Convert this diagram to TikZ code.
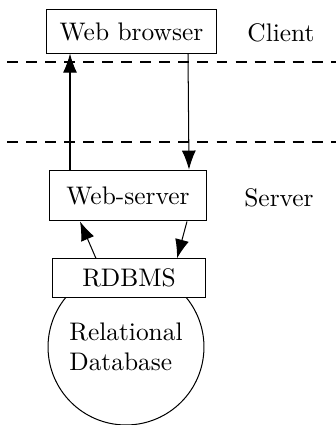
\documentclass[tikz,border=0pt]{standalone}
\usetikzlibrary{positioning,arrows.meta}

\begin{document}
\begin{tikzpicture}[x=0.3937pt,y=-0.3937pt,
    tier/.style={rectangle, draw, fill=white, inner sep=0pt},
    store/.style={circle, draw, minimum size=61.4pt, inner sep=0pt, align=left},
    layer/.style={inner sep=0pt},
    sep/.style={dashed, dash pattern=on 4.3pt off 3.2pt},
    flow/.style={-{Latex[length=7.5pt,width=5.5pt]}}]
        \useasboundingbox (0,0) rectangle (336,425);
        % Nodes
        \node [store] (db) at (126,347) {Relational\\Database};
        \node [tier, minimum width=67pt, minimum height=17pt] (browser) at (131.5,31.5) {Web browser};
        \node [tier, minimum width=62pt, minimum height=20pt] (webserver) at (128,195.5) {Web-server};
        \node [tier, minimum width=60pt, minimum height=15pt] (rdbms) at (129,278) {RDBMS};

        \node [layer] (client) at (281,33) {Client};
        \node [layer] (server) at (279,198) {Server};

        % Tier borders
        \coordinate (sepAw) at (7,62);
        \coordinate (sepAe) at (336,62);
        \coordinate (sepBw) at (7,142);
        \coordinate (sepBe) at (336,142);
        \draw [sep] (sepAw) -- (sepAe);
        \draw [sep] (sepBw) -- (sepBe);

        % Arrows
        \draw [flow] (webserver.north -| 70,0) -- (browser.south -| 70,0);
        \draw [flow] (browser.south -| 188,0) -- (webserver.north -| 189,0);
        \draw [flow] (rdbms.north -| 96,0) -- (webserver.south -| 80,0);
        \draw [flow] (webserver.south -| 187,0) -- (rdbms.north -| 177,0);

        \end{tikzpicture}
\end{document}
